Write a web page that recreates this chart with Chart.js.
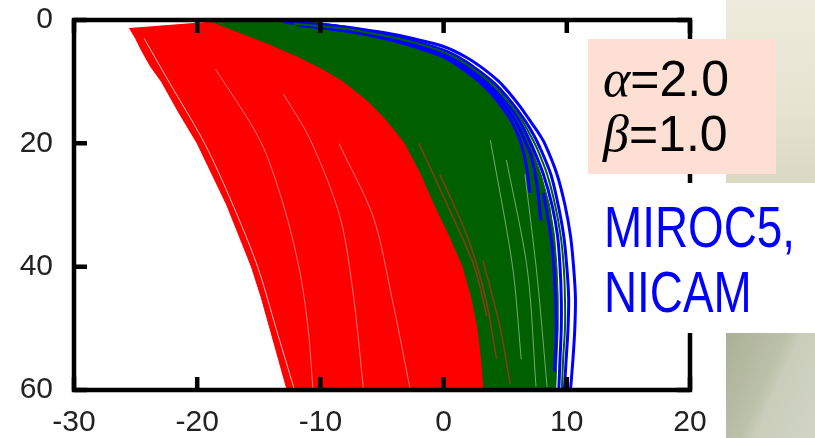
<!DOCTYPE html>
<html>
<head>
<meta charset="utf-8">
<script src="https://cdn.jsdelivr.net/npm/chart.js@4/dist/chart.umd.min.js"></script>
<style>
  body { margin: 0; background: #fff; }
  #wrap { position: relative; width: 815px; height: 438px; overflow: hidden; background: #fff; }
  #chart { position: absolute; left: 0; top: 0; }
  .panel { position: absolute; }
  #panelTop { left: 726px; top: 0; width: 89px; height: 183px; background: linear-gradient(180deg, #eeebdc 0%, #e6e3d1 60%, #dad9c4 100%); }
  #panelBottom { left: 726px; top: 333px; width: 89px; height: 105px; background: linear-gradient(115deg, #aab095 0%, #bcc1a9 45%, #c9cdb9 55%, #d2d5c6 100%); }
  #whiteBox { left: 592px; top: 183px; width: 134px; height: 150px; background: #fff; }
  #paramBox { left: 588px; top: 39px; width: 188px; height: 135px; background: #fddfd4; }
  .param { position: absolute; left: 15px; font: 50px "Liberation Sans", Arial, sans-serif; line-height: 55px; color: #000; white-space: nowrap; }
  .param i { font-family: "Liberation Serif", "DejaVu Serif", serif; font-style: italic; font-size: 52px; }
  #models { position: absolute; left: 604px; top: 194px; font: 58px "Liberation Sans", Arial, sans-serif; line-height: 65px; color: #0000ff; transform: scaleX(0.79); transform-origin: 0 0; white-space: nowrap; }
</style>
</head>
<body>
<div id="wrap">
  <canvas id="chart" width="815" height="438"></canvas>
  <div class="panel" id="panelTop"></div>
  <div class="panel" id="panelBottom"></div>
  <div class="panel" id="whiteBox"></div>
  <div class="panel" id="paramBox">
    <div class="param" style="top: 12px;"><i>α</i>=2.0</div>
    <div class="param" style="top: 67px;"><i>β</i>=1.0</div>
  </div>
  <div id="models">MIROC5,<br>NICAM</div>
</div>
<script>
/* Axis ticks */
const xTicks = [-30, -20, -10, 0, 10, 20];
const yTicks = [0, 20, 40, 60];

/* Red band: outer edges (x at each depth) */
const redLeftDepth = [1.3, 3, 5, 7.5, 10, 15, 20, 25, 30, 35, 40, 45, 50, 55, 60];
const redLeftX = [-25.5, -25.0, -24.5, -23.8, -22.9, -21.5, -20.0, -18.8, -17.6, -16.6, -15.6, -14.8, -14.1, -13.4, -12.7];
const redRightDepth = [0.3, 2, 4, 6, 8, 10, 13, 16, 20, 25, 30, 35, 40, 45, 50, 55, 60];
const redRightX = [-19.0, -16.8, -14.2, -11.9, -9.9, -8.2, -6.3, -4.8, -3.2, -1.9, -0.8, 0.4, 1.5, 2.2, 2.7, 3.0, 3.2];

/* Green band: right edge, left edge sits under the red band */
const greenRightDepth = [0.2, 1, 2.2, 3.6, 5.2, 7, 9, 11, 13, 15, 17, 20, 25, 30, 35, 40, 45, 50, 55, 60];
const greenRightX = [-11.0, -8.0, -5.0, -2.5, 0.0, 1.6, 2.9, 4.0, 4.9, 5.6, 6.2, 7.0, 7.9, 8.6, 9.0, 9.2, 9.3, 9.3, 9.2, 9.1];
const greenLeftDepth = [0.2, 2, 4, 6, 8, 10, 13, 16, 20, 25, 30, 35, 40, 45, 50, 55, 60];
const greenLeftX = [-19.5, -18.0, -15.5, -13.5, -11.5, -10.0, -8.0, -6.5, -5.0, -3.5, -2.3, -1.2, 0.0, 0.8, 1.2, 1.6, 2.0];

/* Blue curves, outer to inner */
const blue1Depth = [0.3, 1, 2, 3, 4.3, 6, 8, 10, 12, 14, 16, 18, 20, 25, 30, 35, 40, 45, 50, 55, 60];
const blue1X = [-13.0, -8.5, -5.0, -2.5, 0.0, 1.8, 3.3, 4.5, 5.4, 6.2, 6.9, 7.6, 8.2, 9.2, 9.85, 10.3, 10.55, 10.7, 10.65, 10.5, 10.3];
const blue2Depth = [0.5, 1.3, 2.4, 3.5, 4.9, 6.6, 8.6, 10.6, 12.6, 14.6, 16.6, 18.6, 20.6, 25, 30, 35, 40, 45, 50, 55, 60];
const blue2X = [-12.5, -8.0, -4.8, -2.3, 0.0, 1.7, 3.1, 4.3, 5.2, 6.0, 6.7, 7.3, 7.8, 8.7, 9.3, 9.75, 10.0, 10.15, 10.1, 9.95, 9.8];
const blue3Depth = [0.7, 1.6, 2.8, 4, 5.5, 7.2, 9.2, 11.2, 13.2, 15.2, 17.2, 19.2, 21.2, 25, 30, 35, 40, 45, 50, 55, 60];
const blue3X = [-12.0, -7.8, -4.6, -2.2, 0.0, 1.6, 3.0, 4.1, 5.0, 5.8, 6.4, 6.9, 7.35, 8.1, 8.8, 9.25, 9.45, 9.55, 9.55, 9.45, 9.35];
const blue4Depth = [0.9, 1.9, 3.2, 4.5, 6, 8, 10, 12, 14, 16, 18, 20, 24, 28];
const blue4X = [-11.6, -7.6, -4.4, -2.1, 0.0, 1.6, 2.9, 3.9, 4.7, 5.4, 5.9, 6.3, 6.75, 7.0];
const blue5Depth = [0.8, 1.75, 3, 4.25, 5.75, 7.6, 9.6, 11.6, 13.6, 15.6, 17.6, 19.6, 22, 27, 32.5];
const blue5X = [-11.8, -7.7, -4.5, -2.15, 0.0, 1.6, 2.95, 4.0, 4.85, 5.6, 6.15, 6.6, 7.1, 7.6, 7.9];
const blue6Depth = [28, 35, 40, 50, 57];
const blue6X = [8.1, 8.7, 8.95, 9.15, 9.0];

/* A green curve running between the blue ones */
const greenLineDepth = [0.6, 1.45, 2.6, 3.75, 5.2, 6.9, 8.9, 10.9, 12.9, 14.9, 16.9, 18.9, 20.9, 25, 30, 35, 40, 45, 50, 55, 60];
const greenLineX = [-12.2, -7.9, -4.7, -2.25, 0.0, 1.65, 3.05, 4.2, 5.1, 5.9, 6.55, 7.1, 7.6, 8.4, 9.05, 9.5, 9.75, 9.85, 9.85, 9.7, 9.6];

/* Dark red curves showing inside the green band */
const darkRed1Depth = [20, 30, 40, 48];
const darkRed1X = [-2.0, 0.3, 2.5, 3.5];
const darkRed2Depth = [25, 35, 45, 55];
const darkRed2X = [-0.3, 1.9, 3.4, 4.3];
const darkRed3Depth = [39, 50, 59];
const darkRed3X = [3.2, 4.6, 5.4];

/* Thin gaps between curves */
const gapRed1Depth = [3, 10, 20, 30, 40, 50, 60];
const gapRed1X = [-24.3, -22.3, -19.4, -17.1, -15.1, -13.6, -12.1];
const gapRed2Depth = [8, 19.5, 30, 40.5, 50, 60];
const gapRed2X = [-18.5, -14.9, -13.0, -11.7, -11.0, -10.6];
const gapRed3Depth = [12, 19.5, 32, 45, 60];
const gapRed3X = [-13.0, -10.8, -8.4, -7.3, -6.5];
const gapRed4Depth = [20, 32, 45, 60];
const gapRed4X = [-8.5, -5.7, -4.2, -2.7];
const gapGreen1Depth = [19.5, 40, 55];
const gapGreen1X = [3.8, 5.6, 6.3];
const gapGreen2Depth = [22.7, 40.5, 59.5];
const gapGreen2X = [5.1, 6.8, 7.5];
const gapGreen3Depth = [25, 41.7, 59.5];
const gapGreen3X = [6.6, 7.6, 8.4];

function toPoints(xs, depths) {
    return xs.map((x, i) => ({ x: x, y: depths[i] }));
}

function band(leftX, leftDepth, rightX, rightDepth) {
    const left = toPoints(leftX, leftDepth);
    const right = toPoints(rightX, rightDepth).reverse();
    return left.concat(right);
}

function curveSet(points, color, width, order) {
    return {
        data: points,
        showLine: true,
        borderColor: color,
        borderWidth: width,
        pointRadius: 0,
        tension: 0.3,
        fill: false,
        order: order
    };
}

function shapeSet(points, color, order) {
    return {
        data: points,
        showLine: true,
        borderColor: color,
        backgroundColor: color,
        borderWidth: 1,
        pointRadius: 0,
        tension: 0,
        fill: "shape",
        order: order
    };
}

const RED = "#ff0000";
const GREEN = "#006000";
const BLUE = "#0000ff";
const GAP = "rgba(255,255,255,0.45)";

const datasets = [
    // lower order = drawn on top
    curveSet(toPoints(gapRed1X, gapRed1Depth), "rgba(255,255,255,0.75)", 1, 0),
    curveSet(toPoints(gapRed2X, gapRed2Depth), GAP, 1, 0),
    curveSet(toPoints(gapRed3X, gapRed3Depth), GAP, 1, 0),
    curveSet(toPoints(gapRed4X, gapRed4Depth), GAP, 1, 0),
    shapeSet(band(redLeftX, redLeftDepth, redRightX, redRightDepth), RED, 1),
    curveSet(toPoints(gapGreen1X, gapGreen1Depth), GAP, 1, 2),
    curveSet(toPoints(gapGreen2X, gapGreen2Depth), GAP, 1, 2),
    curveSet(toPoints(gapGreen3X, gapGreen3Depth), GAP, 1, 2),
    curveSet(toPoints(darkRed1X, darkRed1Depth), "#8a3a16", 1.5, 2),
    curveSet(toPoints(darkRed2X, darkRed2Depth), "#8a3a16", 1.5, 2),
    curveSet(toPoints(darkRed3X, darkRed3Depth), "#8a3a16", 1.5, 2),
    curveSet(toPoints(greenLineX, greenLineDepth), GREEN, 2, 3),
    curveSet(toPoints(blue1X, blue1Depth), BLUE, 3, 4),
    curveSet(toPoints(blue2X, blue2Depth), BLUE, 3, 4),
    curveSet(toPoints(blue3X, blue3Depth), BLUE, 3, 4),
    curveSet(toPoints(blue4X, blue4Depth), BLUE, 3, 4),
    curveSet(toPoints(blue5X, blue5Depth), BLUE, 3, 4),
    curveSet(toPoints(blue6X, blue6Depth), BLUE, 3, 4),
    shapeSet(band(greenLeftX, greenLeftDepth, greenRightX, greenRightDepth), GREEN, 5)
];

/* Frame and inward ticks, drawn with the chart's scales */
const framePlugin = {
    id: "frame",
    afterDatasetsDraw(chart) {
        const { ctx, chartArea: a, scales } = chart;
        const len = 13;
        ctx.save();
        ctx.strokeStyle = "#000";
        ctx.lineWidth = 4.5;
        ctx.beginPath();
        xTicks.forEach(v => {
            const px = scales.x.getPixelForValue(v);
            ctx.moveTo(px, a.bottom);
            ctx.lineTo(px, a.bottom - len);
            ctx.moveTo(px, a.top);
            ctx.lineTo(px, a.top + len);
        });
        yTicks.forEach(v => {
            const py = scales.y.getPixelForValue(v);
            ctx.moveTo(a.left, py);
            ctx.lineTo(a.left + len, py);
            ctx.moveTo(a.right, py);
            ctx.lineTo(a.right - len, py);
        });
        ctx.stroke();
        ctx.strokeRect(a.left, a.top, a.right - a.left, a.bottom - a.top);
        ctx.restore();
    }
};

const tickFont = { family: "'Liberation Sans', Arial, sans-serif", size: 30 };

new Chart(document.getElementById("chart"), {
    type: "scatter",
    data: { datasets: datasets },
    options: {
        responsive: false,
        animation: false,
        events: [],
        layout: { padding: { top: 20, right: 125, left: 0, bottom: 0 } },
        plugins: {
            legend: { display: false },
            tooltip: { enabled: false }
        },
        scales: {
            x: {
                type: "linear",
                min: -30,
                max: 20,
                afterBuildTicks: s => { s.ticks = xTicks.map(v => ({ value: v })); },
                ticks: { font: tickFont, color: "#222", padding: 15 },
                grid: { display: false, drawTicks: false },
                border: { display: false },
                afterFit: s => {
                    s.height = 48;
                    s.paddingLeft = 0;
                    s.paddingRight = 0;
                }
            },
            y: {
                type: "linear",
                min: 0,
                max: 60,
                reverse: true,
                afterBuildTicks: s => { s.ticks = yTicks.map(v => ({ value: v })); },
                ticks: { font: tickFont, color: "#222", padding: 21 },
                grid: { display: false, drawTicks: false },
                border: { display: false },
                afterFit: s => {
                    s.width = 74;
                    s.paddingTop = 0;
                    s.paddingBottom = 0;
                }
            }
        }
    },
    plugins: [framePlugin]
});
</script>
</body>
</html>
